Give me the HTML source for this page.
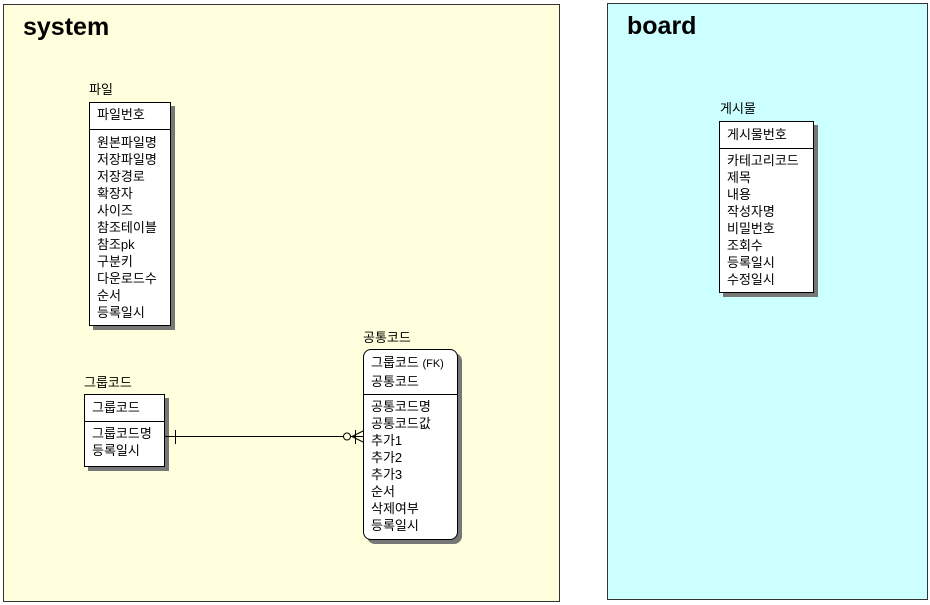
<!DOCTYPE html>
<html><head><meta charset="utf-8"><style>
body{margin:0;width:930px;height:605px;background:#fff;position:relative;overflow:hidden;font-family:"Liberation Sans","Noto Sans CJK KR","NanumGothic",sans-serif;}
.panel{position:absolute;border:1px solid #333;box-sizing:border-box;}
.title{position:absolute;font-weight:bold;font-size:25px;color:#000;}
.lbl{position:absolute;font-size:13px;color:#000;line-height:14px;}
.box{position:absolute;background:#fff;border:1px solid #000;box-sizing:border-box;box-shadow:4px 4px 0 #777;}
.sep{position:absolute;left:0;right:0;border-top:1px solid #000;}
.rows{position:absolute;left:7px;font-size:13px;line-height:17px;color:#000;white-space:nowrap;}
</style></head><body>
<div class="panel" style="left:3px;top:4px;width:557px;height:598px;background:#ffffdd"></div>
<div class="panel" style="left:607px;top:3px;width:321px;height:597px;background:#ccffff"></div>
<div class="title" style="left:23px;top:13px">system</div>
<div class="title" style="left:627px;top:12px">board</div>

<div class="lbl" style="left:89px;top:83px">파일</div>
<div class="box" style="left:89px;top:102px;width:82px;height:224px">
 <div class="rows" style="top:3px">파일번호</div>
 <div class="sep" style="top:26px"></div>
 <div class="rows" style="top:31px">원본파일명<br>저장파일명<br>저장경로<br>확장자<br>사이즈<br>참조테이블<br>참조pk<br>구분키<br>다운로드수<br>순서<br>등록일시</div>
</div>

<div class="lbl" style="left:84px;top:376px">그룹코드</div>
<div class="box" style="left:84px;top:394px;width:81px;height:73px">
 <div class="rows" style="top:4px">그룹코드</div>
 <div class="sep" style="top:26px"></div>
 <div class="rows" style="top:30px">그룹코드명<br>등록일시</div>
</div>

<div class="lbl" style="left:363px;top:331px">공통코드</div>
<div class="box" style="left:363px;top:349px;width:95px;height:191px;border-radius:8px">
 <div class="rows" style="top:4px">그룹코드 <span style="font-size:11px">(FK)</span><br>공통코드</div>
 <div class="sep" style="top:44px"></div>
 <div class="rows" style="top:48px">공통코드명<br>공통코드값<br>추가1<br>추가2<br>추가3<br>순서<br>삭제여부<br>등록일시</div>
</div>

<div class="lbl" style="left:720px;top:102px">게시물</div>
<div class="box" style="left:719px;top:121px;width:95px;height:172px">
 <div class="rows" style="top:4px">게시물번호</div>
 <div class="sep" style="top:26px"></div>
 <div class="rows" style="top:30px">카테고리코드<br>제목<br>내용<br>작성자명<br>비밀번호<br>조회수<br>등록일시<br>수정일시</div>
</div>

<svg style="position:absolute;left:0;top:0" width="930" height="605">
 <g stroke="#000" stroke-width="1" fill="none">
  <line x1="165" y1="436.5" x2="363" y2="436.5"/>
  <line x1="175.5" y1="430" x2="175.5" y2="444"/>
  <circle cx="347" cy="436.5" r="3.5" fill="#ffffdd"/>
  <line x1="355.5" y1="430" x2="355.5" y2="444"/>
  <line x1="352" y1="436.5" x2="363" y2="431"/>
  <line x1="352" y1="436.5" x2="363" y2="442"/>
 </g>
</svg>
</body></html>
